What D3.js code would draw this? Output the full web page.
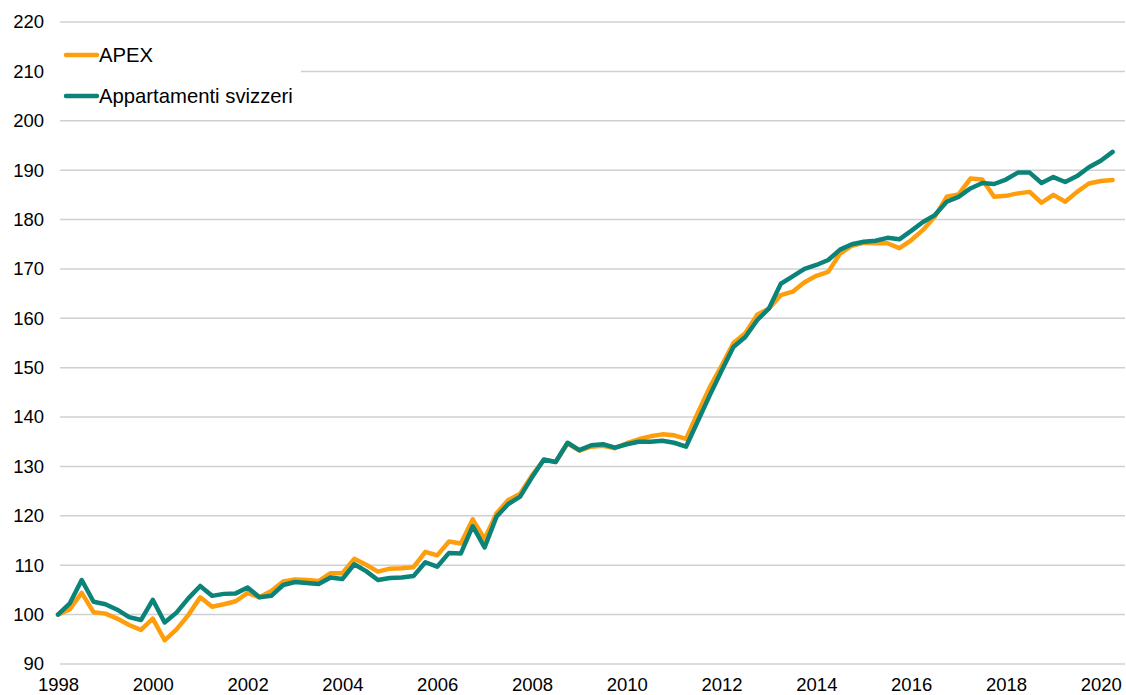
<!DOCTYPE html>
<html>
<head>
<meta charset="utf-8">
<script src="https://cdn.jsdelivr.net/npm/d3@7"></script>
<style>
  body { margin: 0; background: #fff; }
  svg { display: block; font-family: "Liberation Sans", Arial, sans-serif; }
</style>
</head>
<body>
<div id="chart"></div>
<script>
// quarterly index, 1998 T1 = 100
var startYear = 1998;
var yearLabels = ["1998", "2000", "2002", "2004", "2006", "2008", "2010", "2012", "2014", "2016", "2018", "2020"];
var yTicks = [90, 100, 110, 120, 130, 140, 150, 160, 170, 180, 190, 200, 210, 220];

var apex = [
    100, 101.1, 104.4, 100.5, 100.2, 99.2, 97.9, 96.9, 99.2, 94.8,
    97.0, 99.9, 103.5, 101.6, 102.1, 102.7, 104.4, 103.5, 104.8, 106.7,
    107.1, 107.0, 106.8, 108.4, 108.4, 111.3, 110.1, 108.7, 109.3, 109.4,
    109.6, 112.7, 112.0, 114.8, 114.4, 119.3, 115.3, 120.5, 123.2, 124.5,
    128.2, 131.3, 130.9, 134.7, 133.2, 134.0, 134.2, 133.7, 134.7, 135.5,
    136.1, 136.5, 136.3, 135.6, 140.9, 146.0, 150.4, 155.0, 157.0, 160.7,
    162.0, 164.7, 165.4, 167.3, 168.6, 169.4, 173.1, 174.7, 175.3, 175.2,
    175.2, 174.2, 175.8, 177.9, 180.6, 184.6, 185.1, 188.3, 188.1, 184.6,
    184.8, 185.3, 185.6, 183.4, 185.0, 183.6, 185.6, 187.3, 187.8, 188.0
];
var svizzeri = [
    100, 102.3, 107.0, 102.6, 102.1, 101.0, 99.5, 98.9, 103.0, 98.4,
    100.4, 103.3, 105.8, 103.8, 104.2, 104.3, 105.5, 103.5, 103.8, 106.0,
    106.6, 106.4, 106.2, 107.5, 107.2, 110.2, 108.8, 107.0, 107.4, 107.5,
    107.8, 110.6, 109.7, 112.5, 112.4, 117.9, 113.6, 119.8, 122.4, 123.9,
    127.8, 131.4, 130.9, 134.8, 133.3, 134.3, 134.5, 133.8, 134.5, 135.0,
    135.0, 135.2, 134.8, 134.0, 139.2, 144.4, 149.4, 154.2, 156.2, 159.6,
    162.0, 167.0, 168.5, 170.0, 170.8, 171.8, 173.9, 175.0, 175.5, 175.7,
    176.3, 176.0, 177.7, 179.5, 180.9, 183.6, 184.6, 186.3, 187.4, 187.2,
    188.1, 189.5, 189.5, 187.4, 188.6, 187.6, 188.8, 190.6, 191.9, 193.7
];

var seriesNames = ["APEX", "Appartamenti svizzeri"];
var seriesColors = ["#FF9E0D", "#0B8379"];

var width = 1126, height = 695;

var x = d3.scaleLinear().domain([0, apex.length - 1]).range([58, 1112.6]);
var y = d3.scaleLinear().domain([90, 220]).range([664, 22]);

var svg = d3.select("#chart")
    .append("svg")
    .attr("width", width)
    .attr("height", height);

// gridlines
svg.append("g")
    .selectAll("line")
    .data(yTicks)
    .enter().append("line")
    .attr("x1", 60)
    .attr("x2", 1125)
    .attr("y1", function(d) { return y(d); })
    .attr("y2", function(d) { return y(d); })
    .attr("stroke", "#d0d0d0")
    .attr("stroke-width", 1.5);

// y labels
var yAxis = d3.axisLeft(y).tickValues(yTicks).tickSize(0).tickPadding(0);
svg.append("g")
    .attr("transform", "translate(44,0)")
    .call(yAxis)
    .call(function(g) { g.select(".domain").remove(); })
    .selectAll("text")
    .attr("font-family", "Liberation Sans, Arial, sans-serif")
    .attr("font-size", 18.5)
    .attr("fill", "#000");

// x labels (one per two years, at the first quarter)
var xAxis = d3.axisBottom(x)
    .tickValues(yearLabels.map(function(d) { return (+d - startYear) * 4; }))
    .tickFormat(function(d) { return yearLabels[d / 8]; })
    .tickSize(0)
    .tickPadding(0);
svg.append("g")
    .attr("transform", "translate(0,678)")
    .call(xAxis)
    .call(function(g) { g.select(".domain").remove(); })
    .selectAll("text")
    .attr("font-family", "Liberation Sans, Arial, sans-serif")
    .attr("font-size", 18.5)
    .attr("fill", "#000");

var line = d3.line()
    .x(function(d, i) { return x(i); })
    .y(function(d) { return y(d); });

[apex, svizzeri].forEach(function(s, k) {
    svg.append("path")
        .datum(s)
        .attr("fill", "none")
        .attr("stroke", seriesColors[k])
        .attr("stroke-width", 4.5)
        .attr("stroke-linejoin", "round")
        .attr("stroke-linecap", "round")
        .attr("d", line);
});

// legend
svg.append("rect")
    .attr("x", 58)
    .attr("y", 32)
    .attr("width", 243)
    .attr("height", 78)
    .attr("fill", "#fff");

var legend = svg.selectAll(".legend")
    .data(seriesNames)
    .enter().append("g")
    .attr("class", "legend")
    .attr("transform", function(d, i) {
        return "translate(0," + (55 + i * 41) + ")";
    });

legend.append("line")
    .attr("x1", 66)
    .attr("x2", 97)
    .attr("stroke", function(d, i) { return seriesColors[i]; })
    .attr("stroke-width", 4.5)
    .attr("stroke-linecap", "round");

legend.append("text")
    .attr("x", 99)
    .attr("y", 7)
    .attr("font-size", 20.3)
    .attr("fill", "#000")
    .text(function(d) { return d; });
</script>
</body>
</html>
